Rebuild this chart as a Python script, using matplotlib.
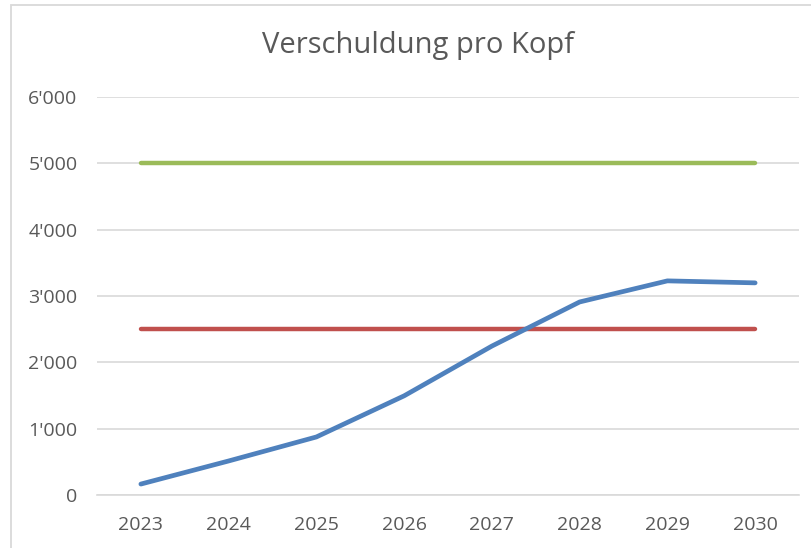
import matplotlib.pyplot as plt
from matplotlib.ticker import FuncFormatter
from matplotlib.patches import Rectangle
from matplotlib import rcParams
rcParams['font.family'] = 'sans-serif'
rcParams['font.sans-serif'] = ['Open Sans', 'DejaVu Sans']

years = ['2023', '2024', '2025', '2026', '2027', '2028', '2029', '2030']
debt = [165, 513, 875, 1495, 2245, 2910, 3228, 3198]
upper = [5000] * 8
lower = [2500] * 8

textCol = '#595959'
gridCol = '#d9d9d9'

fig = plt.figure(figsize=(8.12, 5.48), dpi=100)
ax = fig.add_axes([97/812, 1 - 495/548, 702/812, 398/548])

x = range(len(years))
ax.plot(x, upper, color='#9bbb59', lw=3.2, solid_capstyle='round', zorder=3)
ax.plot(x, lower, color='#c0504d', lw=3.2, solid_capstyle='round', zorder=3)
ax.plot(x, debt, color='#4f81bd', lw=3.4, solid_capstyle='round', zorder=4)

ax.set_xlim(-0.5, len(years) - 0.5)
ax.set_ylim(0, 6000)
ax.set_yticks(range(0, 7000, 1000))
ax.yaxis.set_major_formatter(FuncFormatter(lambda v, p: '0' if v == 0 else "%d'%03d" % (v // 1000, v % 1000)))
ax.set_xticks(list(x))
ax.set_xticklabels(years)
ax.grid(axis='y', color=gridCol, lw=1.2)
ax.set_axisbelow(True)
for s in ['top', 'right', 'left']:
    ax.spines[s].set_visible(False)
ax.spines['bottom'].set_color(gridCol)
ax.spines['bottom'].set_linewidth(1.2)
ax.tick_params(length=0, colors=textCol, labelsize=14)
ax.tick_params(axis='y', pad=14)
ax.tick_params(axis='x', pad=15)

fig.text(418/812, 1 - 46/548, 'Verschuldung pro Kopf', ha='center', va='center',
         fontsize=21, color=textCol)

fig.patches.append(Rectangle((11/812, -0.1), 1.2, 1 - 5/548 + 0.1, transform=fig.transFigure,
                             fill=False, edgecolor='#d9d9d9', lw=1.3))

fig.savefig('out.png', dpi=100)
